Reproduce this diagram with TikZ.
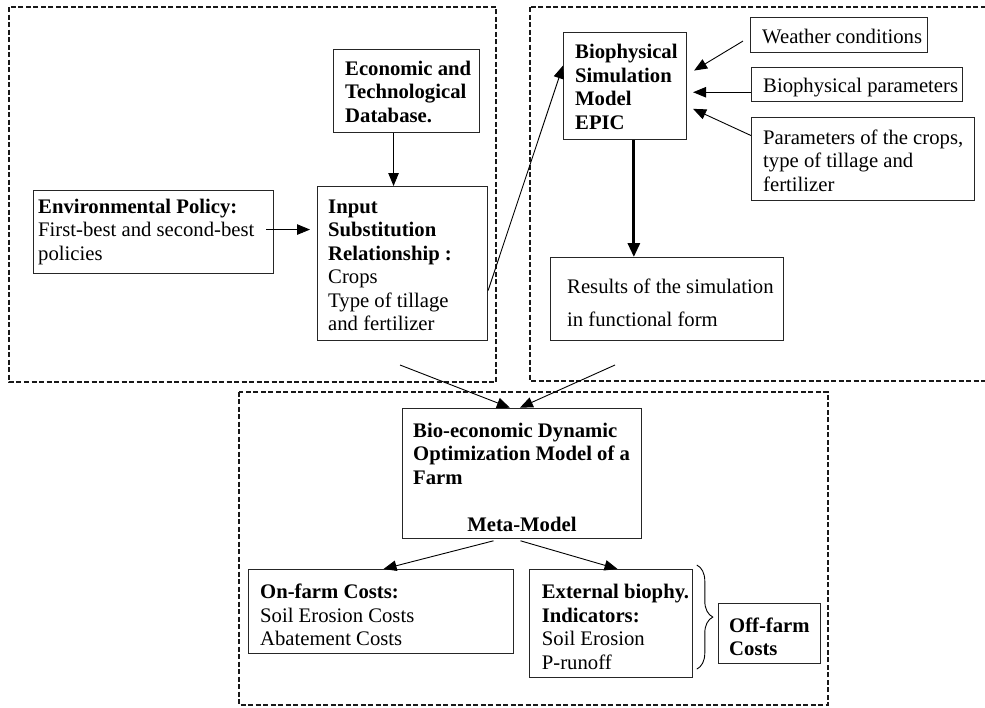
\documentclass[tikz,border=0pt]{standalone}
\usepackage{fontspec}
\setmainfont{Liberation Serif}
\usetikzlibrary{arrows.meta,decorations.pathreplacing,calc}
\newcommand\mkbox[5]{\node[box, minimum width={#4-#2}, minimum height={#5-#3}] (#1) at (#2,#3) {};}
\begin{document}
\begin{tikzpicture}[x=1pt,y=-1pt,
  box/.style={draw=black!85, line width=1.1pt, inner sep=0pt, anchor=north west},
  frame/.style={draw=black!90, line width=1.8pt, dash pattern=on 5pt off 2.5pt},
  txt/.style={anchor=base west, inner sep=0pt, align=left, font=\fontsize{20.7}{23.5}\selectfont},
  arr/.style={-{Triangle[length=13pt,width=10.5pt]}, line width=0.9pt},
  thickarr/.style={-{Triangle[length=14pt,width=12pt]}, line width=3pt},
]
\useasboundingbox (0,0) rectangle (985,707);
\clip (0,0) rectangle (985,707);
\fill[white] (0,0) rectangle (985,707);

% dashed frames
\draw[frame] (9,7) rectangle (496,382);
\draw[frame] (530,7) rectangle (995,381);
\draw[frame] (239,391.7) rectangle (827.7,705);

% boxes
\mkbox{econ}{333}{49}{479}{132}
\mkbox{input}{317}{186}{487}{340}
\mkbox{env}{33}{190}{273}{273}
\mkbox{bio}{563}{32}{686}{139}
\mkbox{weather}{750}{17}{927}{52}
\mkbox{bpar}{751}{67}{962}{101}
\mkbox{pcrop}{751}{117}{974}{200}
\mkbox{res}{550}{257}{783}{340}
\mkbox{be}{401.7}{407.7}{641}{537.7}
\mkbox{on}{248}{569}{513}{652.7}
\mkbox{ext}{529}{569}{692}{676.7}
\mkbox{off}{717.7}{603.3}{820}{663.3}

% texts (anchored at the baseline of their last line)
\node[txt] (econT) at ($(econ.north west)+(12,73)$) {\textbf{Economic and}\\\textbf{Technological}\\\textbf{Database.}};
\node[txt] (envT) at ($(env.north west)+(5,70)$) {\textbf{Environmental Policy:}\\First-best and second-best\\policies};
\node[txt] (inputT) at ($(input.north west)+(11,144.5)$) {\textbf{Input}\\\textbf{Substitution}\\\textbf{Relationship :}\\Crops\\Type of tillage\\and fertilizer};
\node[txt] (bioT) at ($(bio.north west)+(12,97)$) {\textbf{Biophysical}\\\textbf{Simulation}\\\textbf{Model}\\\textbf{EPIC}};
\node[txt] (weatherT) at ($(weather.north west)+(12,26)$) {Weather conditions};
\node[txt] (bparT) at ($(bpar.north west)+(12,25.5)$) {Biophysical parameters};
\node[txt] (pcropT) at ($(pcrop.north west)+(12,74)$) {Parameters of the crops,\\type of tillage and\\fertilizer};
\node[txt] (resT) at ($(res.north west)+(17,69.5)$) {Results of the simulation\\[10pt]in functional form};
\node[txt] (beT) at ($(be.north west)+(11.3,76.3)$) {\textbf{Bio-economic Dynamic}\\\textbf{Optimization Model of a}\\\textbf{Farm}};
\node[txt, anchor=base] (metaT) at ($(be.south)+(0,-7.7)$) {\textbf{Meta-Model}};
\node[txt] (onT) at ($(on.north west)+(12,76.5)$) {\textbf{On-farm Costs:}\\Soil Erosion Costs\\Abatement Costs};
\node[txt] (extT) at ($(ext.north west)+(12.7,100)$) {\textbf{External biophy.}\\\textbf{Indicators:}\\Soil Erosion\\P-runoff};
\node[txt] (offT) at ($(off.north west)+(11.3,52.2)$) {\textbf{Off-farm}\\\textbf{Costs}};

% connectors
\draw[arr] ([xshift=-13pt]econ.south) -- ([xshift=-13pt]econ.south |- input.north);
\coordinate (envout) at ([xshift=-8pt,yshift=2.5pt]env.east);
\draw[arr, shorten >=7pt] (envout) -- (envout -| input.west);
\draw[arr] ([yshift=-27pt]input.east) -- ([yshift=20.5pt]bio.west);
\draw[arr] ([xshift=-7pt,yshift=-6pt]weather.west) -- ([xshift=7pt,yshift=15.5pt]bio.east);
\draw[arr] ([yshift=-7.7pt]bpar.west) -- ([xshift=6pt,yshift=-6.2pt]bio.east);
\draw[arr] ([yshift=23.5pt]pcrop.west) -- ([xshift=6pt,yshift=-22.8pt]bio.east);
\draw[thickarr] ([xshift=8.8pt]bio.south) -- ([xshift=8.8pt]bio.south |- res.north);
\coordinate (lfrom) at (400,365);
\coordinate (rfrom) at (615,365);
\draw[arr] (lfrom) -- ([xshift=-12pt]be.north);
\draw[arr] (rfrom) -- ([xshift=-2pt]be.north);
\draw[arr] ([xshift=-28.4pt,yshift=-2pt]be.south) -- ([xshift=2.5pt]on.north);
\draw[arr] ([xshift=-1.4pt,yshift=-2pt]be.south) -- ([xshift=6.5pt]ext.north);
\draw[line width=0.9pt, decorate, decoration={brace, amplitude=16pt}]
  ([xshift=3.7pt,yshift=4pt]ext.north east) -- ([xshift=3.7pt,yshift=8.7pt]ext.south east);
\end{tikzpicture}
\end{document}
